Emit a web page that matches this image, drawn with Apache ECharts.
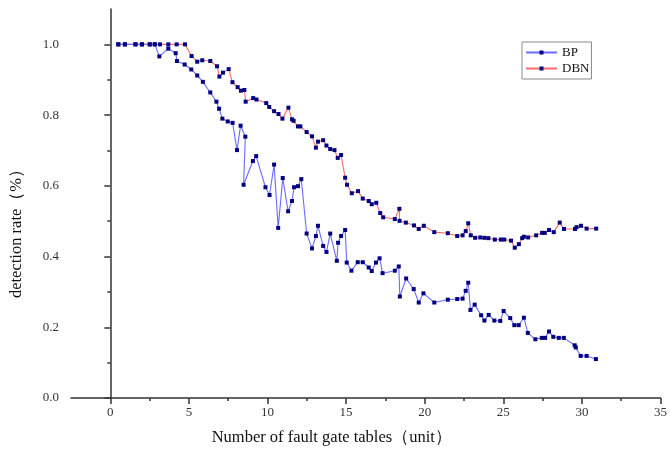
<!DOCTYPE html>
<html>
<head>
<meta charset="utf-8">
<script src="https://cdn.jsdelivr.net/npm/echarts@6/dist/echarts.min.js"></script>
<style>html,body{margin:0;padding:0;background:#fff}#c{width:670px;height:458px}</style>
</head>
<body>
<div id="c"></div>
<script>
const seriesNames = ['BP', 'DBN'];
const xTickValues = [0, 5, 10, 15, 20, 25, 30, 35];
const xMinorValues = [2.5, 7.5, 12.5, 17.5, 22.5, 27.5, 32.5];
const yTickValues = [0, 0.2, 0.4, 0.6, 0.8, 1.0];
const yMinorValues = [0.1, 0.3, 0.5, 0.7, 0.9];

const bpX = [0.51,0.93,1.60,2.01,2.51,2.83,3.12,3.69,4.16,4.24,4.73,5.15,5.53,5.89,6.36,6.75,6.92,7.13,7.47,7.78,
  8.06,8.29,8.59,8.48,9.07,9.28,9.87,10.13,10.42,10.68,10.97,11.31,11.56,11.69,11.94,12.15,12.49,12.83,13.08,13.21,
  13.54,13.75,13.99,14.41,14.49,14.68,14.94,15.04,15.34,15.74,16.06,16.44,16.63,16.90,17.13,17.32,18.10,18.35,18.42,18.82,
  19.30,19.62,19.92,20.61,21.47,22.07,22.41,22.61,22.77,22.91,23.18,23.59,23.80,24.07,24.43,24.81,25.02,25.44,25.70,25.98,
  26.31,26.56,27.04,27.45,27.66,27.91,28.18,28.53,28.85,29.54,29.61,29.92,30.30,30.89];
const bpY = [1.0,1.0,1.0,1.0,1.0,1.0,0.966,0.988,0.975,0.953,0.943,0.929,0.912,0.894,0.864,0.838,0.818,0.790,0.782,0.778,
  0.701,0.770,0.739,0.603,0.670,0.684,0.596,0.574,0.660,0.481,0.622,0.528,0.557,0.596,0.599,0.619,0.465,0.423,0.458,0.487,
  0.430,0.413,0.465,0.388,0.439,0.458,0.475,0.383,0.360,0.384,0.384,0.369,0.359,0.383,0.395,0.353,0.360,0.372,0.287,0.338,
  0.308,0.270,0.296,0.270,0.278,0.280,0.281,0.303,0.326,0.249,0.264,0.234,0.219,0.235,0.219,0.218,0.246,0.226,0.206,0.206,
  0.227,0.184,0.166,0.170,0.170,0.188,0.173,0.170,0.170,0.149,0.143,0.119,0.119,0.110];

const dbnX = [0.51,0.93,1.60,2.01,2.51,2.83,3.16,3.69,4.22,4.75,5.17,5.53,5.85,6.36,6.79,6.94,7.17,7.53,7.77,8.10,
  8.31,8.53,8.61,9.09,9.30,9.92,10.11,10.42,10.70,10.95,11.33,11.56,11.66,11.94,12.09,12.49,12.83,13.08,13.21,13.54,
  13.75,13.99,14.26,14.47,14.68,14.94,15.06,15.36,15.76,16.06,16.44,16.63,16.92,17.17,17.36,18.10,18.39,18.40,18.80,19.32,
  19.62,19.94,20.61,21.47,22.07,22.41,22.61,22.77,22.93,23.21,23.54,23.80,24.05,24.46,24.84,25.06,25.49,25.73,25.99,26.20,
  26.31,26.58,27.09,27.47,27.64,27.91,28.21,28.59,28.86,29.56,29.66,29.94,30.30,30.91];
const dbnY = [1.0,1.0,1.0,1.0,1.0,1.0,1.0,1.0,1.0,1.0,0.967,0.951,0.955,0.953,0.938,0.909,0.920,0.930,0.893,0.879,
  0.869,0.871,0.838,0.848,0.844,0.834,0.823,0.811,0.803,0.790,0.821,0.788,0.784,0.768,0.768,0.752,0.740,0.708,0.725,0.729,
  0.714,0.704,0.701,0.679,0.687,0.623,0.603,0.579,0.585,0.564,0.557,0.548,0.552,0.523,0.511,0.506,0.535,0.501,0.496,0.488,
  0.478,0.487,0.469,0.466,0.458,0.460,0.472,0.494,0.460,0.453,0.454,0.453,0.452,0.448,0.448,0.448,0.445,0.425,0.435,0.452,
  0.456,0.454,0.460,0.467,0.467,0.475,0.469,0.496,0.478,0.478,0.483,0.487,0.479,0.479];

const pairs = (xs, ys) => xs.map((x, i) => [x, ys[i]]);
const FONT = '"Liberation Serif", "Times New Roman", serif';

const chart = echarts.init(document.getElementById('c'), null, {renderer: 'canvas'});
const axisLineStyle = {color: '#333', width: 1.5};
chart.setOption({
  animation: false,
  backgroundColor: '#fff',
  grid: {left: 67, right: 9, top: 9, bottom: 60, containLabel: false},
  legend: {
    data: seriesNames,
    orient: 'vertical',
    left: 522, top: 42,
    padding: [4, 2, 4, 3],
    itemGap: 3,
    itemWidth: 31, itemHeight: 5,
    borderColor: '#8a8a8a', borderWidth: 1,
    textStyle: {fontFamily: FONT, fontSize: 13, color: '#111'}
  },
  xAxis: [{
    type: 'value', min: -2.5, max: 35,
    name: 'Number of fault gate tables（unit）',
    nameLocation: 'middle', nameGap: 31,
    nameTextStyle: {fontFamily: FONT, fontSize: 16.5, color: '#111', padding: [0, 68, 0, 0]},
    axisLine: {show: true, onZero: false, lineStyle: axisLineStyle},
    axisTick: {show: true, length: 6, customValues: xTickValues, lineStyle: axisLineStyle},
    axisLabel: {customValues: xTickValues, margin: 8, fontFamily: FONT, fontSize: 13, color: '#333'},
    splitLine: {show: false}
  }, {
    type: 'value', min: -2.5, max: 35, position: 'bottom',
    axisLine: {show: false},
    axisTick: {show: true, length: 3, customValues: xMinorValues, lineStyle: axisLineStyle},
    axisLabel: {show: false},
    splitLine: {show: false}
  }],
  yAxis: [{
    type: 'value', min: 0, max: 1.1,
    name: 'detection rate（%）',
    nameLocation: 'middle', nameGap: 46, nameRotate: 90,
    nameTextStyle: {fontFamily: FONT, fontSize: 16.5, color: '#111', padding: [0, 52, 0, 0]},
    axisLine: {show: true, lineStyle: axisLineStyle},
    axisTick: {show: true, length: 6, customValues: yTickValues, lineStyle: axisLineStyle},
    axisLabel: {customValues: yTickValues, margin: 12, fontFamily: FONT, fontSize: 13, color: '#333',
      formatter: v => v.toFixed(1)},
    splitLine: {show: false}
  }, {
    type: 'value', min: 0, max: 1.1, position: 'left',
    axisLine: {show: false},
    axisTick: {show: true, length: 3, customValues: yMinorValues, lineStyle: axisLineStyle},
    axisLabel: {show: false},
    splitLine: {show: false}
  }],
  series: [{
    name: seriesNames[0], type: 'line', xAxisIndex: 0, yAxisIndex: 0,
    data: pairs(bpX, bpY),
    symbol: 'rect', symbolSize: 4,
    itemStyle: {color: '#000080'},
    lineStyle: {color: '#6b6bff', width: 1.1},
    z: 3
  }, {
    name: seriesNames[1], type: 'line', xAxisIndex: 0, yAxisIndex: 0,
    data: pairs(dbnX, dbnY),
    symbol: 'rect', symbolSize: 4,
    itemStyle: {color: '#000080'},
    lineStyle: {color: '#ff6b6b', width: 1.1},
    z: 2
  }]
});
</script>
</body>
</html>
